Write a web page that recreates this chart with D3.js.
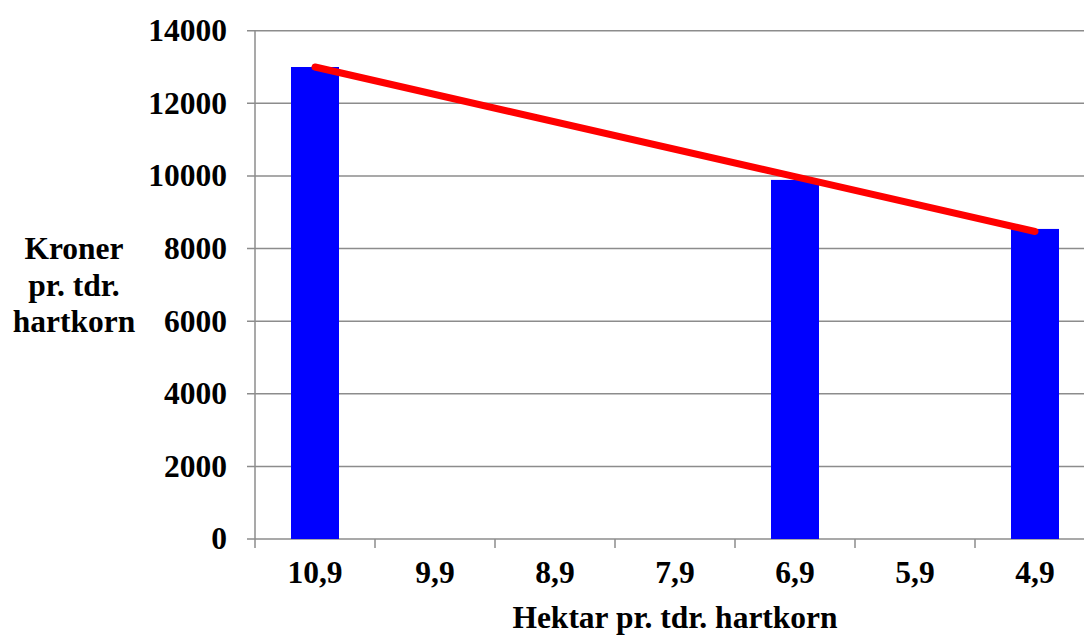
<!DOCTYPE html>
<html>
<head>
<meta charset="utf-8">
<script src="https://cdn.jsdelivr.net/npm/d3@7"></script>
<style>
  body { margin: 0; background: #fff; }
  text { font-family: "Liberation Serif", "Times New Roman", serif; font-weight: bold; fill: #000; }
</style>
</head>
<body>
<svg id="chart"></svg>
<script>
// data
const categories = ["10,9", "9,9", "8,9", "7,9", "6,9", "5,9", "4,9"];
const barValues = [13000, null, null, null, 9890, null, 8540];
const lineCats = ["10,9", "6,9", "4,9"];
const lineValues = [13000, 9980, 8470];
const yTicks = [0, 2000, 4000, 6000, 8000, 10000, 12000, 14000];
const yTitle = ["Kroner", "pr. tdr.", "hartkorn"];
const xTitle = "Hektar pr. tdr. hartkorn";

const width = 1084;
const height = 637;
const plotLeft = 255, plotRight = 1095, plotTop = 30.7, plotBottom = 539;
const grey = "#8c8c8c";
const fontSize = 31.5;

const svg = d3.select("#chart")
  .attr("width", width)
  .attr("height", height);

const x = d3.scaleBand()
  .domain(categories)
  .range([plotLeft, plotRight])
  .paddingInner(0.6)
  .paddingOuter(0.3);

const xb = d3.scaleBand().domain(categories).range([plotLeft, plotRight]);

const y = d3.scaleLinear()
  .domain([0, 14000])
  .range([plotBottom, plotTop]);

// gridlines
svg.append("g")
  .selectAll("line")
  .data(yTicks)
  .enter().append("line")
  .attr("x1", plotLeft - 8)
  .attr("x2", plotRight)
  .attr("y1", d => y(d))
  .attr("y2", d => y(d))
  .attr("stroke", grey)
  .attr("stroke-width", 1.5);

// y axis line
svg.append("line")
  .attr("x1", plotLeft).attr("x2", plotLeft)
  .attr("y1", plotTop).attr("y2", plotBottom + 9)
  .attr("stroke", grey)
  .attr("stroke-width", 1.5);

// x ticks at band boundaries
svg.append("g")
  .selectAll("line")
  .data(categories.slice(1))
  .enter().append("line")
  .attr("x1", d => xb(d))
  .attr("x2", d => xb(d))
  .attr("y1", plotBottom)
  .attr("y2", plotBottom + 9)
  .attr("stroke", grey)
  .attr("stroke-width", 1.5);

// y tick labels
svg.append("g")
  .selectAll("text")
  .data(yTicks)
  .enter().append("text")
  .attr("x", 227)
  .attr("y", d => y(d))
  .attr("dy", "0.33em")
  .attr("text-anchor", "end")
  .attr("font-size", fontSize)
  .text(d => d);

// x tick labels
svg.append("g")
  .selectAll("text")
  .data(categories)
  .enter().append("text")
  .attr("x", d => xb(d) + xb.bandwidth() / 2)
  .attr("y", 583)
  .attr("text-anchor", "middle")
  .attr("font-size", fontSize)
  .text(d => d);

// bars
svg.append("g")
  .selectAll("rect")
  .data(categories.map((c, i) => ({ c, v: barValues[i] })).filter(d => d.v != null))
  .enter().append("rect")
  .attr("x", d => x(d.c))
  .attr("y", d => y(d.v))
  .attr("width", x.bandwidth())
  .attr("height", d => y(0) - y(d.v))
  .attr("fill", "#0000ff");

// red line
const line = d3.line()
  .x(d => xb(d.c) + xb.bandwidth() / 2)
  .y(d => y(d.v));

svg.append("path")
  .datum(lineCats.map((c, i) => ({ c, v: lineValues[i] })))
  .attr("d", line)
  .attr("fill", "none")
  .attr("stroke", "#ff0000")
  .attr("stroke-width", 7)
  .attr("stroke-linecap", "round")
  .attr("stroke-linejoin", "round");

// axis titles
svg.append("text")
  .attr("text-anchor", "middle")
  .attr("font-size", fontSize)
  .selectAll("tspan")
  .data(yTitle)
  .enter().append("tspan")
  .attr("x", 74)
  .attr("y", (d, i) => 259 + i * 36.5)
  .text(d => d);

svg.append("text")
  .attr("x", (plotLeft + plotRight) / 2)
  .attr("y", 628)
  .attr("text-anchor", "middle")
  .attr("font-size", fontSize)
  .text(xTitle);
</script>
</body>
</html>
